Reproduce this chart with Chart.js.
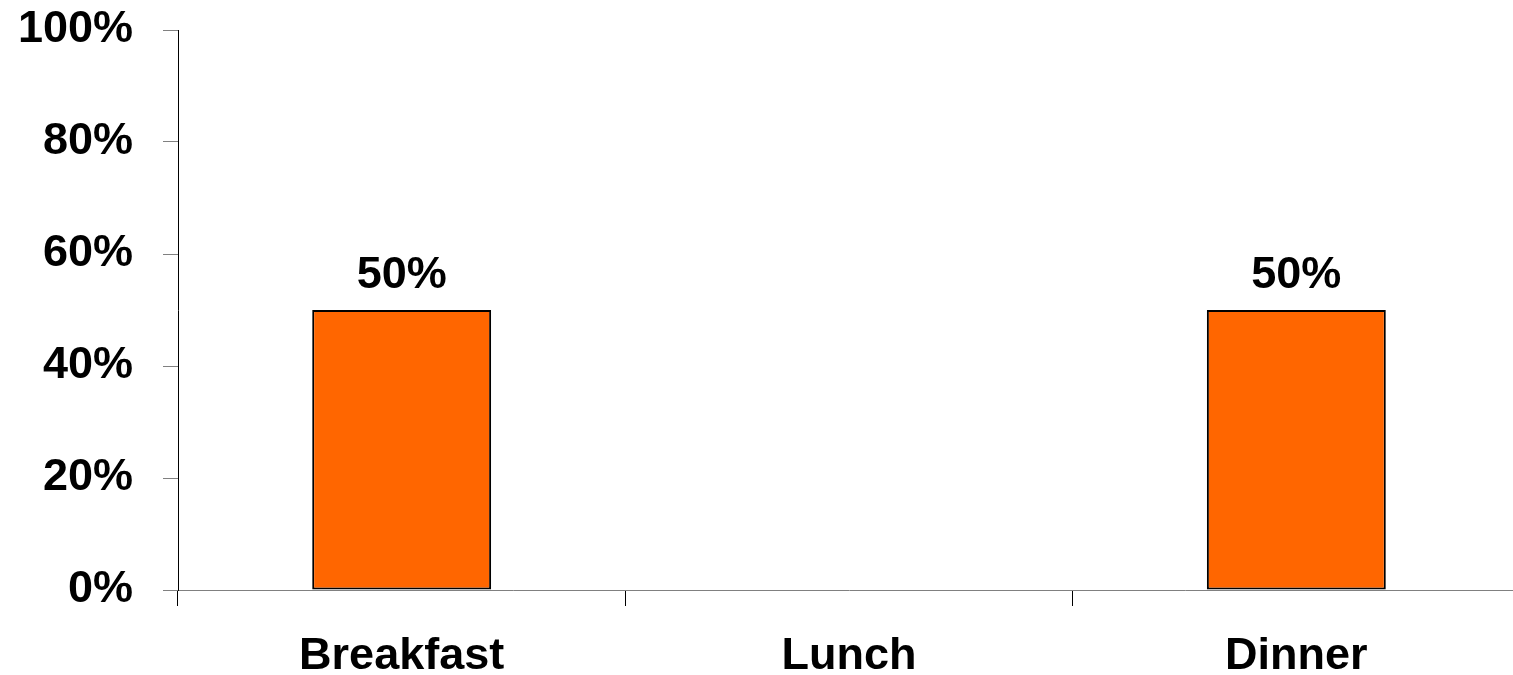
<!DOCTYPE html>
<html>
<head>
<meta charset="utf-8">
<script src="https://cdn.jsdelivr.net/npm/chart.js@4"></script>
<style>
	html, body { margin: 0; padding: 0; background: #fff; overflow: hidden; }
	#wrap { width: 1520px; height: 675px; }
</style>
</head>
<body>
<div id="wrap"><canvas id="BarChart"></canvas></div>
<script>
var Meals = ['Breakfast', 'Lunch', 'Dinner'];
var MealShare = [50, 0, 50];
var YTicks = [0, 20, 40, 60, 80, 100];

var fontName = '"Liberation Sans", Arial, sans-serif';

// value labels above the bars
var barLabels = {
	id: 'barLabels',
	afterDatasetsDraw: function(chart){
		var ctx = chart.ctx;
		var meta = chart.getDatasetMeta(0);
		ctx.save();
		ctx.font = 'bold 45px ' + fontName;
		ctx.fillStyle = '#000';
		ctx.textAlign = 'center';
		ctx.textBaseline = 'alphabetic';
		meta.data.forEach(function(bar, i){
			if(!MealShare[i]) return;
			ctx.fillText(MealShare[i] + '%', bar.x, bar.y - 22);
		});
		ctx.restore();
	}
};

new Chart(document.getElementById('BarChart'), {
	type: 'bar',
	data: {
		labels: Meals,
		datasets: [{
			data: MealShare,
			backgroundColor: '#FF6600',
			borderColor: '#000',
			borderWidth: 2,
			borderSkipped: false,
			categoryPercentage: 1,
			barPercentage: 0.4
		}]
	},
	options: {
		responsive: true,
		maintainAspectRatio: false,
		animation: false,
		layout: { padding: { top: 30, left: 0, right: 0, bottom: 0 } },
		plugins: {
			legend: { display: false },
			tooltip: { enabled: false }
		},
		scales: {
			x: {
				grid: {
					offset: true,
					drawOnChartArea: false,
					drawTicks: true,
					tickLength: 16,
					color: '#000'
				},
				border: { display: true, color: '#808080', width: 1 },
				ticks: {
					color: '#000',
					padding: 24,
					font: { family: fontName, size: 45, weight: 'bold' }
				},
				afterFit: function(scale){
					scale.height = 85;
					scale.paddingLeft = 0;
					scale.paddingRight = 0;
				}
			},
			y: {
				min: 0,
				max: 100,
				afterBuildTicks: function(scale){
					scale.ticks = YTicks.map(function(v){ return { value: v }; });
				},
				grid: {
					drawOnChartArea: false,
					drawTicks: true,
					tickLength: 15,
					color: '#808080'
				},
				border: { display: true, color: '#000', width: 1 },
				ticks: {
					color: '#000',
					padding: 30,
					font: { family: fontName, size: 45, weight: 'bold' },
					callback: function(v){ return v + '%'; }
				},
				afterFit: function(scale){
					scale.width = 178;
					scale.paddingTop = 0;
					scale.paddingBottom = 0;
				}
			}
		}
	},
	plugins: [barLabels]
});
</script>
</body>
</html>
